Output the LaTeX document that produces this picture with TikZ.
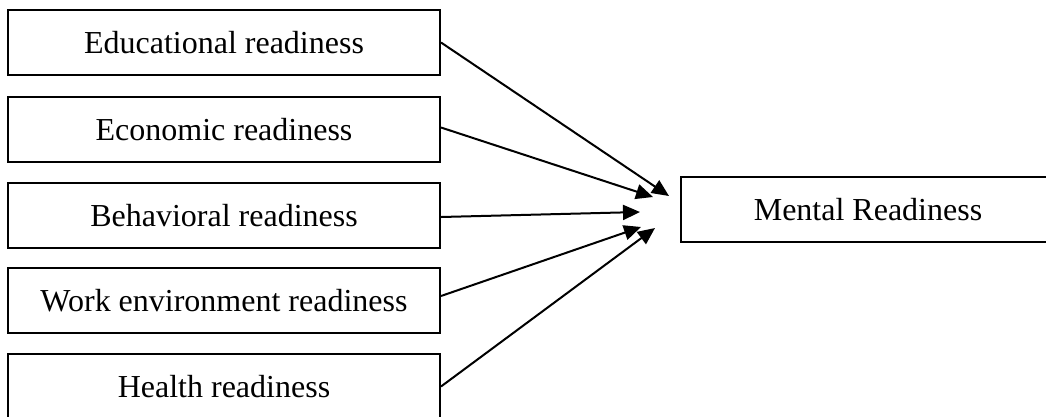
\documentclass[tikz,border=0pt]{standalone}
\usepackage{fontspec}
\setmainfont{Liberation Serif}
\usetikzlibrary{arrows.meta}
\begin{document}
\begin{tikzpicture}[x=1pt,y=-1pt,
  inbox/.style={draw,line width=2pt,minimum width=432pt,minimum height=65pt,inner sep=0pt,font=\fontsize{32}{38}\selectfont},
  outbox/.style={draw,line width=2pt,minimum width=374pt,minimum height=65pt,inner sep=0pt,font=\fontsize{32}{38}\selectfont},
  arr/.style={line width=2pt,-{Triangle[length=17pt,width=15pt]}}]
\useasboundingbox (0,0) rectangle (1046,416);
\clip (0,0) rectangle (1046,416);
\node[inbox] (b1) at (224,42.5) {Educational readiness};
\node[inbox] (b2) at (224,129.5) {Economic readiness};
\node[inbox] (b3) at (224,215.5) {Behavioral readiness};
\node[inbox] (b4) at (224,300.5) {Work environment readiness};
\node[inbox] (b5) at (224,386.5) {Health readiness};
\node[outbox] (m) at (868,209.5) {Mental Readiness};
\coordinate (t1) at (669,196);
\coordinate (t2) at (653,197);
\coordinate (t3) at (640,212);
\coordinate (t4) at (641,227);
\coordinate (t5) at (655,228);
\draw[arr] (b1.east) -- (t1);
\draw[arr] ([yshift=2pt]b2.east) -- (t2);
\draw[arr] ([yshift=-1.5pt]b3.east) -- (t3);
\draw[arr] ([yshift=4.5pt]b4.east) -- (t4);
\draw[arr] (b5.east) -- (t5);
\end{tikzpicture}
\end{document}
